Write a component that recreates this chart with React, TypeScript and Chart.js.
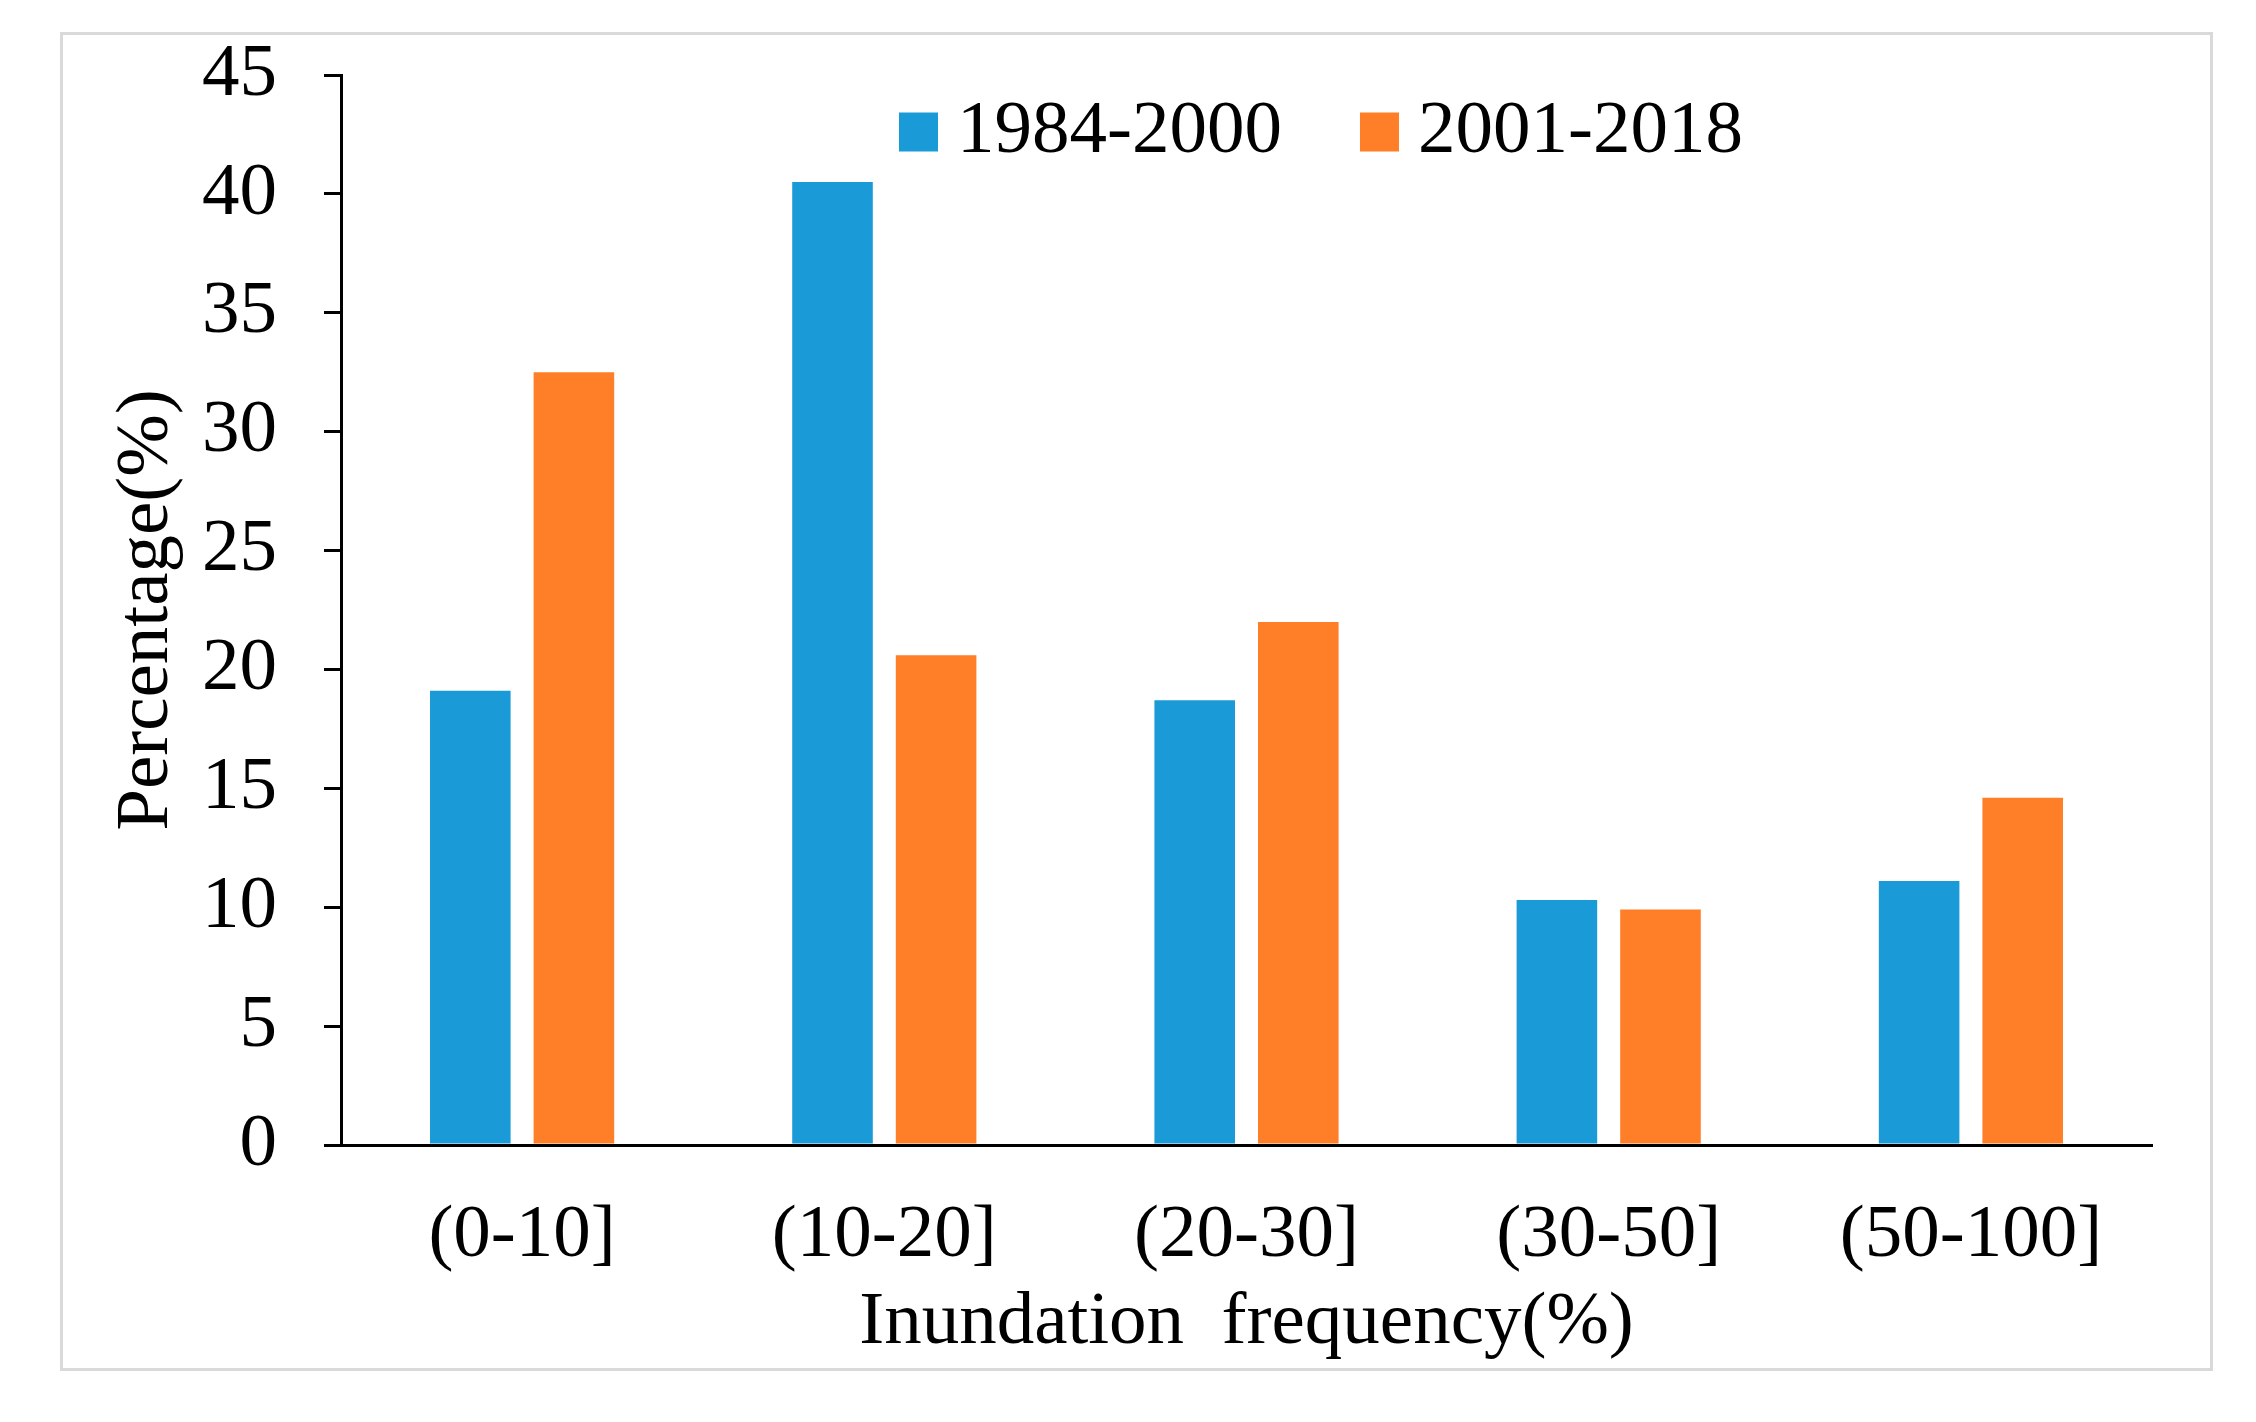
import React, { useEffect, useRef } from "react";
import { Chart, registerables } from "chart.js";

Chart.register(...registerables);

const categories = ["(0-10]", "(10-20]", "(20-30]", "(30-50]", "(50-100]"];
const seriesLabels = ["1984-2000", "2001-2018"];
const values1984to2000 = [19.1, 40.5, 18.7, 10.3, 11.1];
const values2001to2018 = [32.5, 20.6, 22.0, 9.9, 14.6];
const yTicksMin = 0;
const yTicksMax = 45;
const yTicksStep = 5;

const FONT_FAMILY = '"Liberation Serif", "Times New Roman", serif';
const BLUE = "#1a9bd7";
const ORANGE = "#fe7f27";

const insideLegend = {
  id: "insideLegend",
  afterDraw(chart: any) {
    const { ctx, chartArea } = chart;
    ctx.save();
    ctx.font = `75px ${FONT_FAMILY}`;
    ctx.textBaseline = "middle";
    ctx.textAlign = "left";
    let x = chartArea.left + 558;
    const yc = chartArea.top + 57;
    const box = 39;
    chart.data.datasets.forEach((ds: any) => {
      ctx.fillStyle = ds.backgroundColor;
      ctx.fillRect(x, yc - box / 2, box, box);
      x += box + 19;
      ctx.fillStyle = "#000";
      ctx.fillText(ds.label, x, yc);
      x += ctx.measureText(ds.label).width + 78;
    });
    ctx.restore();
  },
};

export default function App() {
  const canvasRef = useRef<HTMLCanvasElement | null>(null);

  useEffect(() => {
    if (!canvasRef.current) return;
    const font = { family: FONT_FAMILY, size: 75, lineHeight: 1 };
    const chart = new Chart(canvasRef.current, {
      type: "bar",
      data: {
        labels: categories,
        datasets: [
          {
            label: seriesLabels[0],
            data: values1984to2000,
            backgroundColor: BLUE,
            borderWidth: 0,
            categoryPercentage: 0.572,
            barPercentage: 0.778,
          },
          {
            label: seriesLabels[1],
            data: values2001to2018,
            backgroundColor: ORANGE,
            borderWidth: 0,
            categoryPercentage: 0.572,
            barPercentage: 0.778,
          },
        ],
      },
      options: {
        responsive: false,
        animation: false,
        devicePixelRatio: 1,
        layout: { padding: { left: 47, right: 58, top: 40, bottom: 7 } },
        plugins: {
          legend: { display: false },
          tooltip: { enabled: false },
        },
        scales: {
          x: {
            ticks: { font, color: "#000", padding: 54 },
            grid: { display: false, drawTicks: false },
            border: { display: true, color: "#000", width: 3 },
            title: {
              display: true,
              text: "Inundation  frequency(%)",
              font,
              color: "#000",
              padding: 0,
            },
            afterFit: (s: any) => {
              s.height = 216;
            },
          },
          y: {
            min: yTicksMin,
            max: yTicksMax,
            ticks: { stepSize: yTicksStep, font, color: "#000", padding: 47 },
            grid: {
              drawOnChartArea: false,
              drawTicks: true,
              tickLength: 17,
              color: "#000",
              lineWidth: 3,
            },
            border: { display: true, color: "#000", width: 3 },
            title: {
              display: true,
              text: "Percentage(%)",
              font,
              color: "#000",
              padding: 0,
            },
            afterFit: (s: any) => {
              s.width = 231;
              s.paddingTop = 0;
              s.paddingBottom = 0;
            },
          },
        },
      },
      plugins: [insideLegend],
    });
    return () => chart.destroy();
  }, []);

  return (
    <div
      style={{
        position: "absolute",
        left: 60,
        top: 32,
        width: 2153,
        height: 1339,
        border: "3px solid #d9d9d9",
        boxSizing: "border-box",
        background: "#fff",
      }}
    >
      <canvas
        ref={canvasRef}
        width={2147}
        height={1333}
        style={{ display: "block", width: 2147, height: 1333 }}
      />
    </div>
  );
}
